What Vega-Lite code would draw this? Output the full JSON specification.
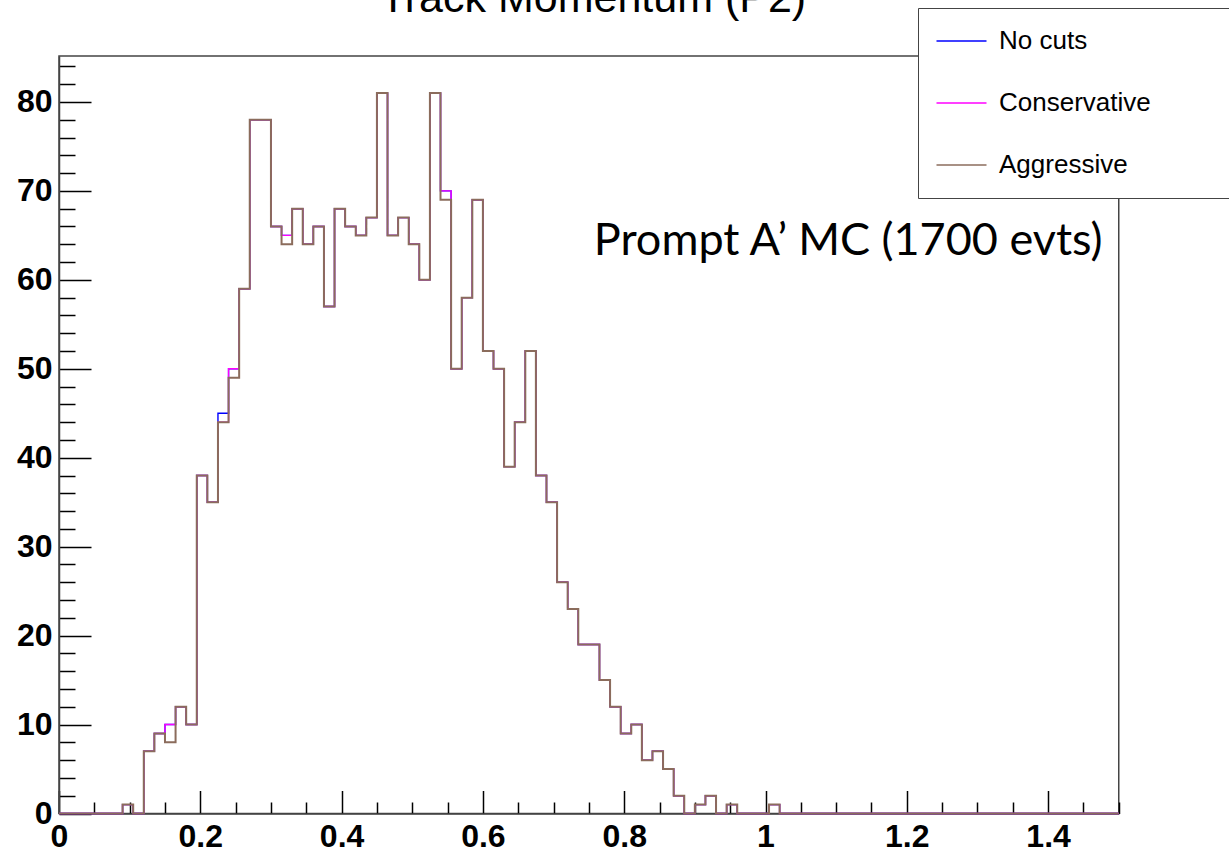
{
  "$schema": "https://vega.github.io/schema/vega-lite/v6.json",
  "width": 1059.75,
  "height": 757.5,
  "autosize": {"type": "none"},
  "padding": {"left": 59, "top": 56, "right": 110.25, "bottom": 38.5},
  "background": "white",
  "view": {"stroke": "#444", "strokeWidth": 1.5},
  "data": {"values": [
    {"p":0,"nocuts":0,"cons":0,"aggr":0},
    {"p":0.015,"nocuts":0,"cons":0,"aggr":0},
    {"p":0.03,"nocuts":0,"cons":0,"aggr":0},
    {"p":0.045,"nocuts":0,"cons":0,"aggr":0},
    {"p":0.06,"nocuts":0,"cons":0,"aggr":0},
    {"p":0.075,"nocuts":0,"cons":0,"aggr":0},
    {"p":0.09,"nocuts":1,"cons":1,"aggr":1},
    {"p":0.105,"nocuts":0,"cons":0,"aggr":0},
    {"p":0.12,"nocuts":7,"cons":7,"aggr":7},
    {"p":0.135,"nocuts":9,"cons":9,"aggr":9},
    {"p":0.15,"nocuts":10,"cons":10,"aggr":8},
    {"p":0.165,"nocuts":12,"cons":12,"aggr":12},
    {"p":0.18,"nocuts":10,"cons":10,"aggr":10},
    {"p":0.195,"nocuts":38,"cons":38,"aggr":38},
    {"p":0.21,"nocuts":35,"cons":35,"aggr":35},
    {"p":0.225,"nocuts":45,"cons":44,"aggr":44},
    {"p":0.24,"nocuts":50,"cons":50,"aggr":49},
    {"p":0.255,"nocuts":59,"cons":59,"aggr":59},
    {"p":0.27,"nocuts":78,"cons":78,"aggr":78},
    {"p":0.285,"nocuts":78,"cons":78,"aggr":78},
    {"p":0.3,"nocuts":66,"cons":66,"aggr":66},
    {"p":0.315,"nocuts":65,"cons":65,"aggr":64},
    {"p":0.33,"nocuts":68,"cons":68,"aggr":68},
    {"p":0.345,"nocuts":64,"cons":64,"aggr":64},
    {"p":0.36,"nocuts":66,"cons":66,"aggr":66},
    {"p":0.375,"nocuts":57,"cons":57,"aggr":57},
    {"p":0.39,"nocuts":68,"cons":68,"aggr":68},
    {"p":0.405,"nocuts":66,"cons":66,"aggr":66},
    {"p":0.42,"nocuts":65,"cons":65,"aggr":65},
    {"p":0.435,"nocuts":67,"cons":67,"aggr":67},
    {"p":0.45,"nocuts":81,"cons":81,"aggr":81},
    {"p":0.465,"nocuts":65,"cons":65,"aggr":65},
    {"p":0.48,"nocuts":67,"cons":67,"aggr":67},
    {"p":0.495,"nocuts":64,"cons":64,"aggr":64},
    {"p":0.51,"nocuts":60,"cons":60,"aggr":60},
    {"p":0.525,"nocuts":81,"cons":81,"aggr":81},
    {"p":0.54,"nocuts":70,"cons":70,"aggr":69},
    {"p":0.555,"nocuts":50,"cons":50,"aggr":50},
    {"p":0.57,"nocuts":58,"cons":58,"aggr":58},
    {"p":0.585,"nocuts":69,"cons":69,"aggr":69},
    {"p":0.6,"nocuts":52,"cons":52,"aggr":52},
    {"p":0.615,"nocuts":50,"cons":50,"aggr":50},
    {"p":0.63,"nocuts":39,"cons":39,"aggr":39},
    {"p":0.645,"nocuts":44,"cons":44,"aggr":44},
    {"p":0.66,"nocuts":52,"cons":52,"aggr":52},
    {"p":0.675,"nocuts":38,"cons":38,"aggr":38},
    {"p":0.69,"nocuts":35,"cons":35,"aggr":35},
    {"p":0.705,"nocuts":26,"cons":26,"aggr":26},
    {"p":0.72,"nocuts":23,"cons":23,"aggr":23},
    {"p":0.735,"nocuts":19,"cons":19,"aggr":19},
    {"p":0.75,"nocuts":19,"cons":19,"aggr":19},
    {"p":0.765,"nocuts":15,"cons":15,"aggr":15},
    {"p":0.78,"nocuts":12,"cons":12,"aggr":12},
    {"p":0.795,"nocuts":9,"cons":9,"aggr":9},
    {"p":0.81,"nocuts":10,"cons":10,"aggr":10},
    {"p":0.825,"nocuts":6,"cons":6,"aggr":6},
    {"p":0.84,"nocuts":7,"cons":7,"aggr":7},
    {"p":0.855,"nocuts":5,"cons":5,"aggr":5},
    {"p":0.87,"nocuts":2,"cons":2,"aggr":2},
    {"p":0.885,"nocuts":0,"cons":0,"aggr":0},
    {"p":0.9,"nocuts":1,"cons":1,"aggr":1},
    {"p":0.915,"nocuts":2,"cons":2,"aggr":2},
    {"p":0.93,"nocuts":0,"cons":0,"aggr":0},
    {"p":0.945,"nocuts":1,"cons":1,"aggr":1},
    {"p":0.96,"nocuts":0,"cons":0,"aggr":0},
    {"p":0.975,"nocuts":0,"cons":0,"aggr":0},
    {"p":0.99,"nocuts":0,"cons":0,"aggr":0},
    {"p":1.005,"nocuts":1,"cons":1,"aggr":1},
    {"p":1.02,"nocuts":0,"cons":0,"aggr":0},
    {"p":1.035,"nocuts":0,"cons":0,"aggr":0},
    {"p":1.05,"nocuts":0,"cons":0,"aggr":0},
    {"p":1.065,"nocuts":0,"cons":0,"aggr":0},
    {"p":1.08,"nocuts":0,"cons":0,"aggr":0},
    {"p":1.095,"nocuts":0,"cons":0,"aggr":0},
    {"p":1.11,"nocuts":0,"cons":0,"aggr":0},
    {"p":1.125,"nocuts":0,"cons":0,"aggr":0},
    {"p":1.14,"nocuts":0,"cons":0,"aggr":0},
    {"p":1.155,"nocuts":0,"cons":0,"aggr":0},
    {"p":1.17,"nocuts":0,"cons":0,"aggr":0},
    {"p":1.185,"nocuts":0,"cons":0,"aggr":0},
    {"p":1.2,"nocuts":0,"cons":0,"aggr":0},
    {"p":1.215,"nocuts":0,"cons":0,"aggr":0},
    {"p":1.23,"nocuts":0,"cons":0,"aggr":0},
    {"p":1.245,"nocuts":0,"cons":0,"aggr":0},
    {"p":1.26,"nocuts":0,"cons":0,"aggr":0},
    {"p":1.275,"nocuts":0,"cons":0,"aggr":0},
    {"p":1.29,"nocuts":0,"cons":0,"aggr":0},
    {"p":1.305,"nocuts":0,"cons":0,"aggr":0},
    {"p":1.32,"nocuts":0,"cons":0,"aggr":0},
    {"p":1.335,"nocuts":0,"cons":0,"aggr":0},
    {"p":1.35,"nocuts":0,"cons":0,"aggr":0},
    {"p":1.365,"nocuts":0,"cons":0,"aggr":0},
    {"p":1.38,"nocuts":0,"cons":0,"aggr":0},
    {"p":1.395,"nocuts":0,"cons":0,"aggr":0},
    {"p":1.41,"nocuts":0,"cons":0,"aggr":0},
    {"p":1.425,"nocuts":0,"cons":0,"aggr":0},
    {"p":1.44,"nocuts":0,"cons":0,"aggr":0},
    {"p":1.455,"nocuts":0,"cons":0,"aggr":0},
    {"p":1.47,"nocuts":0,"cons":0,"aggr":0},
    {"p":1.485,"nocuts":0,"cons":0,"aggr":0},
    {"p":1.5,"nocuts":0,"cons":0,"aggr":0}
  ]},
  "layer": [
    {
      "mark": {"type": "line", "interpolate": "step-after", "strokeWidth": 1.4},
      "encoding": {
        "x": {"field": "p", "type": "quantitative",
          "scale": {"domain": [0, 1.5], "nice": false, "zero": false},
          "axis": {
            "values": [0,0.05,0.1,0.15,0.2,0.25,0.3,0.35,0.4,0.45,0.5,0.55,0.6,0.65,0.7,0.75,0.8,0.85,0.9,0.95,1,1.05,1.1,1.15,1.2,1.25,1.3,1.35,1.4,1.45,1.5],
            "tickCount": 200,
            "format": "~g",
            "labelExpr": "abs(datum.value*5 - round(datum.value*5)) < 0.001 && datum.value < 1.45 ? datum.label : ''",
            "tickSize": {"condition": {"test": "abs(datum.value*5 - round(datum.value*5)) < 0.001", "value": -23}, "value": -11.5},
            "tickColor": "black", "tickWidth": 1.5,
            "domainColor": "#444", "domainWidth": 1.5,
            "labelFont": "Liberation Sans", "labelFontWeight": "bold", "labelFontSize": 32, "labelColor": "black",
            "labelPadding": 31, "title": null, "grid": false,
            "labelOverlap": false, "labelFlush": false, "labelBound": false
          }},
        "y": {"field": "nocuts", "type": "quantitative",
          "scale": {"domain": [0, 85.17], "nice": false},
          "axis": {
            "values": [0,2,4,6,8,10,12,14,16,18,20,22,24,26,28,30,32,34,36,38,40,42,44,46,48,50,52,54,56,58,60,62,64,66,68,70,72,74,76,78,80,82,84],
            "tickCount": 200,
            "format": "d",
            "labelExpr": "datum.value % 10 == 0 ? datum.label : ''",
            "tickSize": {"condition": {"test": "datum.value % 10 == 0", "value": -32}, "value": -16},
            "tickColor": "black", "tickWidth": 1.5,
            "domainColor": "#444", "domainWidth": 1.5,
            "labelFont": "Liberation Sans", "labelFontWeight": "bold", "labelFontSize": 32, "labelColor": "black",
            "labelPadding": 39, "title": null, "grid": false,
            "labelOverlap": false, "labelFlush": false, "labelBound": false
          }},
        "color": {"datum": "No cuts",
          "scale": {"domain": ["No cuts", "Conservative", "Aggressive"], "range": ["#0000ff", "#ff00ff", "#8b6c5c"]},
          "legend": {
            "orient": "none", "legendX": 859, "legendY": -48,
            "title": null, "symbolType": "stroke", "symbolSize": 2916, "symbolStrokeWidth": 1.5,
            "symbolOffset": -5, "labelOffset": 11.5, "rowPadding": 33, "padding": 18.5, "clipHeight": 29,
            "labelFont": "Liberation Sans", "labelFontSize": 26, "labelColor": "black", "labelLimit": 800,
            "labelExpr": "datum.label + '                                   \u2800'",
            "strokeColor": "#444", "fillColor": "white", "cornerRadius": 0
          }}
      }
    },
    {
      "mark": {"type": "line", "interpolate": "step-after", "strokeWidth": 1.4},
      "encoding": {
        "x": {"field": "p", "type": "quantitative"},
        "y": {"field": "cons", "type": "quantitative"},
        "color": {"datum": "Conservative"}
      }
    },
    {
      "mark": {"type": "line", "interpolate": "step-after", "strokeWidth": 2},
      "encoding": {
        "x": {"field": "p", "type": "quantitative"},
        "y": {"field": "aggr", "type": "quantitative"},
        "color": {"datum": "Aggressive"}
      }
    },
    {
      "data": {"values": [{}]},
      "mark": {"type": "text", "font": "Lato", "fontSize": 45, "align": "left", "baseline": "alphabetic", "color": "black", "text": "Prompt A’ MC (1700 evts)"},
      "encoding": {
        "x": {"datum": 0.757, "type": "quantitative"},
        "y": {"datum": 62.8, "type": "quantitative"}
      }
    },
    {
      "data": {"values": [{}]},
      "mark": {"type": "text", "font": "Liberation Sans", "fontSize": 43, "align": "center", "baseline": "alphabetic", "color": "black", "text": "Track Momentum (P2)", "clip": false},
      "encoding": {
        "x": {"datum": 0.756, "type": "quantitative"},
        "y": {"datum": 90.14, "type": "quantitative"}
      }
    }
  ]
}
